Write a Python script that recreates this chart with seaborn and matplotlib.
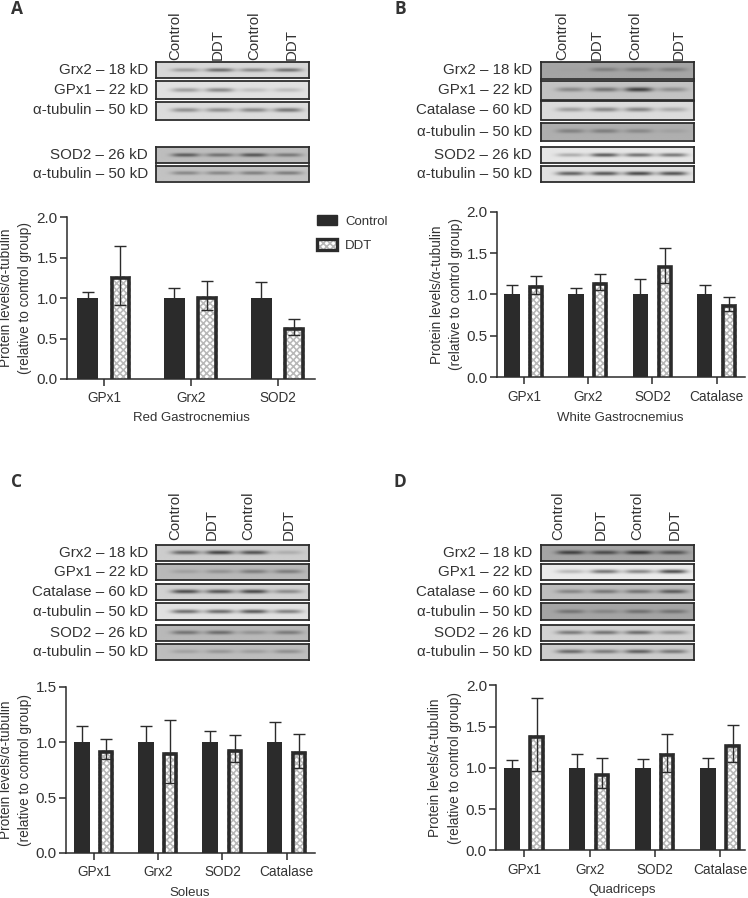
import numpy as np
import pandas as pd
import matplotlib
matplotlib.use("Agg")
import matplotlib.pyplot as plt
from matplotlib.patches import Patch, Rectangle
from matplotlib.legend_handler import HandlerTuple
import seaborn as sns

sns.set_theme(style="ticks")
FONT = ["Liberation Sans", "DejaVu Sans"]
plt.rcParams["font.family"] = FONT
plt.rcParams["hatch.linewidth"] = 1.15

W, H = 748, 898
DARK = "#2b2b2b"
TXT = "#333333"
CHECK = "#b8b8b8"
HATCH = "xxxxx"

# ---------- values ----------
groups = ["Control", "DDT"]
cats3 = ["GPx1", "Grx2", "SOD2"]
cats4 = ["GPx1", "Grx2", "SOD2", "Catalase"]

a_ctrl = [1.0, 1.0, 1.0]
a_ctrl_err = [0.07, 0.12, 0.20]
a_ddt = [1.27, 1.03, 0.64]
a_ddt_hi = [1.65, 1.21, 0.74]
a_ddt_lo = [0.91, 0.85, 0.55]

b_ctrl = [1.0, 1.0, 1.0, 1.0]
b_ctrl_err = [0.11, 0.08, 0.19, 0.11]
b_ddt = [1.11, 1.15, 1.35, 0.88]
b_ddt_hi = [1.22, 1.25, 1.56, 0.97]
b_ddt_lo = [1.00, 1.05, 1.14, 0.80]

c_ctrl = [1.0, 1.0, 1.0, 1.0]
c_ctrl_err = [0.15, 0.15, 0.10, 0.18]
c_ddt = [0.93, 0.91, 0.94, 0.92]
c_ddt_hi = [1.03, 1.20, 1.06, 1.07]
c_ddt_lo = [0.85, 0.63, 0.82, 0.77]

d_ctrl = [1.0, 1.0, 1.0, 1.0]
d_ctrl_err = [0.09, 0.17, 0.11, 0.12]
d_ddt = [1.40, 0.93, 1.18, 1.29]
d_ddt_hi = [1.85, 1.12, 1.41, 1.52]
d_ddt_lo = [0.96, 0.75, 0.95, 1.07]

ticks_2 = [0.0, 0.5, 1.0, 1.5, 2.0]
ticks_15 = [0.0, 0.5, 1.0, 1.5]
ylabel_text = "Protein levels/α-tubulin\n(relative to control group)"
lane_labels = ["Control", "DDT", "Control", "DDT"]

# blot labels, background grey, band grey per lane
a_blot_names = ["Grx2 – 18 kD", "GPx1 – 22 kD", "α-tubulin – 50 kD", "SOD2 – 26 kD", "α-tubulin – 50 kD"]
a_blot_bg = [215, 225, 220, 190, 195]
a_blot_bands = [[130, 65, 105, 70], [130, 100, 180, 175], [110, 110, 100, 75], [50, 80, 40, 90], [110, 110, 100, 95]]

b_blot_names = ["Grx2 – 18 kD", "GPx1 – 22 kD", "Catalase – 60 kD", "α-tubulin – 50 kD", "SOD2 – 26 kD", "α-tubulin – 50 kD"]
b_blot_bg = [165, 195, 220, 175, 230, 225]
b_blot_bands = [[160, 110, 105, 110], [110, 80, 5, 120], [130, 100, 95, 150], [110, 105, 120, 155], [150, 35, 65, 75], [45, 30, 10, 25]]

c_blot_names = b_blot_names[:]
c_blot_bg = [205, 185, 210, 225, 185, 190]
c_blot_bands = [[55, 10, 30, 160], [150, 130, 100, 100], [20, 35, 15, 110], [65, 60, 35, 90], [85, 75, 130, 95], [150, 135, 145, 125]]

d_blot_names = b_blot_names[:]
d_blot_bg = [165, 235, 190, 165, 210, 205]
d_blot_bands = [[20, 35, 10, 45], [165, 70, 95, 15], [110, 90, 85, 50], [95, 120, 90, 95], [85, 75, 65, 115], [65, 90, 50, 85]]

fig = plt.figure(figsize=(W / 100, H / 100), dpi=100, facecolor="white")


def px_axes(x0, y0, x1, y1):
    return fig.add_axes([x0 / W, 1 - y1 / H, (x1 - x0) / W, (y1 - y0) / H])


def draw_bars(box, cats, ctrl, ctrl_err, ddt, ddt_hi, ddt_lo, yticks, xlim, title, title_xy, ylabel_x):
    x0, y0, x1, y1 = box
    ax = px_axes(x0, y0, x1, y1)
    df = pd.DataFrame({
        "cat": list(cats) * 2,
        "group": [groups[0]] * len(cats) + [groups[1]] * len(cats),
        "val": list(ctrl) + list(ddt),
    })
    sns.barplot(data=df, x="cat", y="val", hue="group", order=cats, hue_order=groups,
                palette={"Control": DARK, "DDT": "white"}, saturation=1, width=0.754, gap=0.35,
                errorbar=None, legend=False, ax=ax)
    ax.set_xlim(*xlim)
    ax.set_ylim(0, yticks[-1])
    for bar in ax.containers[0]:
        bar.set_linewidth(0)
    edge_px = 3.6
    dx = (xlim[1] - xlim[0]) / (x1 - x0) * edge_px / 2
    dy = yticks[-1] / (y1 - y0) * edge_px / 2
    for bar in ax.containers[1]:
        bar.set_edgecolor(CHECK)
        bar.set_linewidth(0)
        bar.set_hatch(HATCH)
        ax.add_patch(Rectangle((bar.get_x() + dx, -0.2), bar.get_width() - 2 * dx,
                               bar.get_height() + 0.2 - dy, fill=False,
                               edgecolor=DARK, linewidth=edge_px * 0.72, zorder=3))
    xc = [b.get_x() + b.get_width() / 2 for b in ax.containers[0]]
    xd = [b.get_x() + b.get_width() / 2 for b in ax.containers[1]]
    kw = dict(fmt="none", ecolor=DARK, elinewidth=1.0, capsize=4.2, capthick=1.0, zorder=4)
    ax.errorbar(xc, ctrl, yerr=[ctrl_err, ctrl_err], **kw)
    ax.errorbar(xd, ddt, yerr=[np.subtract(ddt, ddt_lo), np.subtract(ddt_hi, ddt)], **kw)
    ax.set_yticks(yticks)
    ax.set_yticklabels([f"{t:.1f}" for t in yticks], fontsize=11, color=TXT)
    ax.tick_params(axis="x", length=5, width=1.1, color=DARK, labelsize=9.8, labelcolor=TXT, pad=4)
    ax.tick_params(axis="y", length=5, width=1.1, color=DARK, pad=1.5)
    sns.despine(ax=ax)
    for s in ("left", "bottom"):
        ax.spines[s].set_linewidth(1.1)
        ax.spines[s].set_color(DARK)
    ax.set_xlabel("")
    ax.set_ylabel(ylabel_text, fontsize=9.8, color=TXT, linespacing=1.5, va="center")
    ax.yaxis.set_label_coords((ylabel_x - x0) / (x1 - x0), 0.5)
    fig.text(title_xy[0] / W, 1 - title_xy[1] / H, title, ha="center", va="center", fontsize=9.5, color=TXT)
    return ax


def draw_blots(names, bg, bands, rows, x0, x1, label_x):
    for name, b, lanes, (y0, y1) in zip(names, bg, bands, rows):
        ax = px_axes(x0, y0, x1, y1)
        band_row = [b]
        for lane in lanes:
            band_row += [b, lane, lane, lane]
        band_row += [b]
        band_row = np.array(band_row, dtype=float)
        blank = np.full_like(band_row, b)
        img = np.vstack([blank, blank, blank, band_row, blank, blank, blank])
        ax.imshow(img, cmap="gray", vmin=0, vmax=255, aspect="auto", interpolation="bicubic")
        ax.set_xticks([])
        ax.set_yticks([])
        for s in ax.spines.values():
            s.set_visible(True)
            s.set_linewidth(1.3)
            s.set_color("#2c2c2c")
        fig.text(label_x / W, 1 - (y0 + y1) / 2 / H, name, ha="right", va="center", fontsize=10.9, color=TXT)


def draw_lanes(xs, bottom):
    for x, lab in zip(xs, lane_labels):
        fig.text(x / W, 1 - bottom / H, lab, rotation=90, ha="center", va="bottom", fontsize=10.8, color=TXT)


# ---------- bar panels ----------
ax_a = draw_bars((66.7, 217.3, 315, 379), cats3, a_ctrl, a_ctrl_err, a_ddt, a_ddt_hi, a_ddt_lo,
                 ticks_2, (-0.43, 2.43), "Red Gastrocnemius", (191, 418), 15.5)
draw_bars((496.7, 211.7, 745, 377.3), cats4, b_ctrl, b_ctrl_err, b_ddt, b_ddt_hi, b_ddt_lo,
          ticks_2, (-0.425, 3.44), "White Gastrocnemius", (620, 417.7), 446.5)
draw_bars((65.7, 686.7, 315, 853), cats4, c_ctrl, c_ctrl_err, c_ddt, c_ddt_hi, c_ddt_lo,
          ticks_15, (-0.44, 3.44), "Soleus", (190, 893), 15.5)
draw_bars((496, 685.3, 745, 850.3), cats4, d_ctrl, d_ctrl_err, d_ddt, d_ddt_hi, d_ddt_lo,
          ticks_2, (-0.435, 3.38), "Quadriceps", (621.7, 890), 445)

# ---------- legend ----------
h_ctrl = Patch(facecolor=DARK, edgecolor=DARK)
h_ddt = (Patch(facecolor="white", edgecolor=CHECK, hatch=HATCH, linewidth=0),
         Patch(fill=False, edgecolor=DARK, linewidth=2.4))
ax_a.legend([h_ctrl, h_ddt], groups, handler_map={tuple: HandlerTuple(ndivide=1, pad=0)},
            loc="upper left", bbox_to_anchor=(317 / W, 1 - 214.5 / H), bbox_transform=fig.transFigure,
            frameon=False, borderpad=0, borderaxespad=0, fontsize=9.5, labelcolor=TXT,
            handlelength=1.5, handleheight=0.9, handletextpad=0.65, labelspacing=0.85)

# ---------- blots ----------
rows_a = [(62, 78), (81, 99), (101.5, 119.5), (147, 163), (165.5, 181.5)]
rows_b = [(62, 78.5), (81, 99.5), (101, 119.5), (122.5, 140.5), (147, 163), (165.5, 182)]
rows_cd = [(544.7, 560.7), (564, 580.3), (583.7, 600), (603.3, 619.7), (624.7, 641), (643.7, 660)]
draw_blots(a_blot_names, a_blot_bg, a_blot_bands, rows_a, 156, 309, 148)
draw_blots(b_blot_names, b_blot_bg, b_blot_bands, rows_b, 540.7, 693.7, 532)
draw_blots(c_blot_names, c_blot_bg, c_blot_bands, rows_cd, 156, 309, 148)
draw_blots(d_blot_names, d_blot_bg, d_blot_bands, rows_cd, 540.7, 693.7, 532)

draw_lanes([175.7, 217.7, 254.7, 291.7], 59.5)
draw_lanes([562.7, 596.7, 635.3, 679], 59.5)
draw_lanes([175, 211.7, 248.3, 288.3], 539.5)
draw_lanes([558.3, 601, 637.3, 675], 539.5)

# ---------- panel letters ----------
for letter, x, y in [("A", 17, 14.5), ("B", 400, 14), ("C", 17, 487), ("D", 400, 487)]:
    fig.text(x / W, 1 - y / H, letter, ha="center", va="baseline", fontsize=12.5,
             fontweight="bold", family=["Open Sans", "DejaVu Sans"], color=TXT)

fig.savefig("out.png", dpi=100, facecolor="white")
